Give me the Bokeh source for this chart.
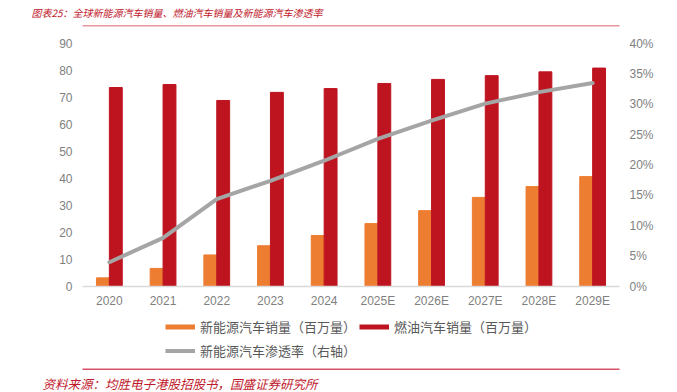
from bokeh.plotting import figure
from bokeh.layouts import column
from bokeh.models import (ColumnDataSource, Range1d, LinearAxis, FixedTicker,
                          NumeralTickFormatter, Title, BoxAnnotation, Legend, LegendItem)
from bokeh.transform import dodge
from bokeh.embed import file_html
from bokeh.resources import INLINE

years = ["2020", "2021", "2022", "2023", "2024", "2025E", "2026E", "2027E", "2028E", "2029E"]
nev_sales = [3.2, 6.7, 11.7, 15.1, 18.9, 23.3, 28.1, 33.0, 37.0, 40.7]
ice_sales = [73.7, 74.8, 68.9, 71.9, 73.3, 75.2, 76.7, 78.1, 79.5, 80.9]
nev_share = [0.040, 0.080, 0.144, 0.174, 0.207, 0.243, 0.273, 0.301, 0.320, 0.335]

left_ticks = [0, 10, 20, 30, 40, 50, 60, 70, 80, 90]
right_ticks = [0, 0.05, 0.10, 0.15, 0.20, 0.25, 0.30, 0.35, 0.40]

title_text = "图表25：全球新能源汽车销量、燃油汽车销量及新能源汽车渗透率"
source_text = "资料来源：均胜电子港股招股书，国盛证券研究所"
legend_labels = ["新能源汽车销量（百万量）", "燃油汽车销量（百万量）", "新能源汽车渗透率（右轴）"]

CJK = "Noto Sans CJK SC"
NUM = "Liberation Sans"
ORANGE = "#ED7D31"
RED = "#BE1420"
GREY = "#A5A5A5"
NAN = float("nan")
W = 677


def blank(h):
    f = figure(width=W, height=h, output_backend="svg", toolbar_location=None,
               title_location=None, x_axis_location=None, y_axis_location=None,
               min_border=0, x_range=Range1d(0, 1), y_range=Range1d(0, 1))
    f.outline_line_color = None
    f.grid.visible = False
    return f


def rule(bottom, color):
    return BoxAnnotation(left=-200, right=2000, bottom=bottom, top=bottom + 1.5,
                         left_units="screen", right_units="screen",
                         bottom_units="screen", top_units="screen",
                         fill_color=color, fill_alpha=1, line_alpha=0)


def style_axis(ax, standoff):
    ax.major_tick_line_color = None
    ax.minor_tick_line_color = None
    ax.major_tick_out = 0
    ax.minor_tick_out = 0
    ax.major_tick_in = 0
    ax.minor_tick_in = 0
    ax.major_label_text_font = NUM
    ax.major_label_text_font_size = "12px"
    ax.major_label_text_color = "#7F7F7F"
    ax.major_label_standoff = standoff


# ---- header ----
top = blank(30)
top.add_layout(Title(text=title_text, align="left", vertical_align="middle", offset=-51,
                     standoff=6, text_font=CJK, text_font_size="10px",
                     text_font_style="italic", text_color="#C0182C"), "above")
top.add_layout(rule(4, "#E8959E"))

# ---- main chart ----
src = ColumnDataSource(dict(year=years, nev=nev_sales, ice=ice_sales, share=nev_share))

p = figure(x_range=years, y_range=Range1d(0, 90), width=W, height=281,
           output_backend="svg", toolbar_location=None, title_location=None,
           min_border_left=82, min_border_right=58, min_border_top=13, min_border_bottom=25)
p.extra_y_ranges = {"pct": Range1d(0, 0.40)}
p.outline_line_color = None
p.xgrid.grid_line_color = None
p.ygrid.grid_line_color = None
p.x_range.range_padding = 0

p.vbar(x=dodge("year", -0.12, range=p.x_range), top="nev", width=0.24,
       source=src, color=ORANGE)
p.vbar(x=dodge("year", 0.12, range=p.x_range), top="ice", width=0.24,
       source=src, color=RED)
p.line(x="year", y="share", source=src, y_range_name="pct",
       line_color=GREY, line_width=4, line_join="round", line_cap="round")

xa = p.xaxis[0]
xa.axis_line_color = "#D9D9D9"
xa.axis_line_width = 1.5
style_axis(xa, 7)

ya = p.yaxis[0]
ya.ticker = FixedTicker(ticks=left_ticks)
ya.axis_line_color = None
style_axis(ya, 10)

ra = LinearAxis(y_range_name="pct", ticker=FixedTicker(ticks=right_ticks),
                formatter=NumeralTickFormatter(format="0%"))
ra.axis_line_color = None
style_axis(ra, 10)
p.add_layout(ra, "right")

# ---- footer: legend, rule, source ----
bot = blank(81)
k1 = bot.line(x=[0], y=[NAN], line_color=ORANGE, line_width=5)
k2 = bot.line(x=[0], y=[NAN], line_color=RED, line_width=5)
k3 = bot.line(x=[0], y=[NAN], line_color=GREY, line_width=4)
legend = Legend(items=[LegendItem(label=legend_labels[0], renderers=[k1]),
                       LegendItem(label=legend_labels[1], renderers=[k2]),
                       LegendItem(label=legend_labels[2], renderers=[k3])],
                location=(83, 10), orientation="horizontal", ncols=2,
                glyph_width=30, glyph_height=21, label_standoff=5, spacing=3,
                label_height=21, label_width=156, padding=0, margin=0,
                border_line_alpha=0, background_fill_alpha=0,
                label_text_font=CJK, label_text_font_size="13px",
                label_text_color="#595959")
bot.add_layout(legend)
bot.add_layout(rule(1.5, "#D9546A"))
bot.add_layout(Title(text=source_text, align="left", vertical_align="bottom", offset=-40,
                     standoff=0, text_font=CJK, text_font_size="12.5px",
                     text_font_style="italic", text_color="#C0182C"), "below")

layout = column(top, p, bot, spacing=0)
open("out.html", "w").write(file_html(layout, INLINE))
